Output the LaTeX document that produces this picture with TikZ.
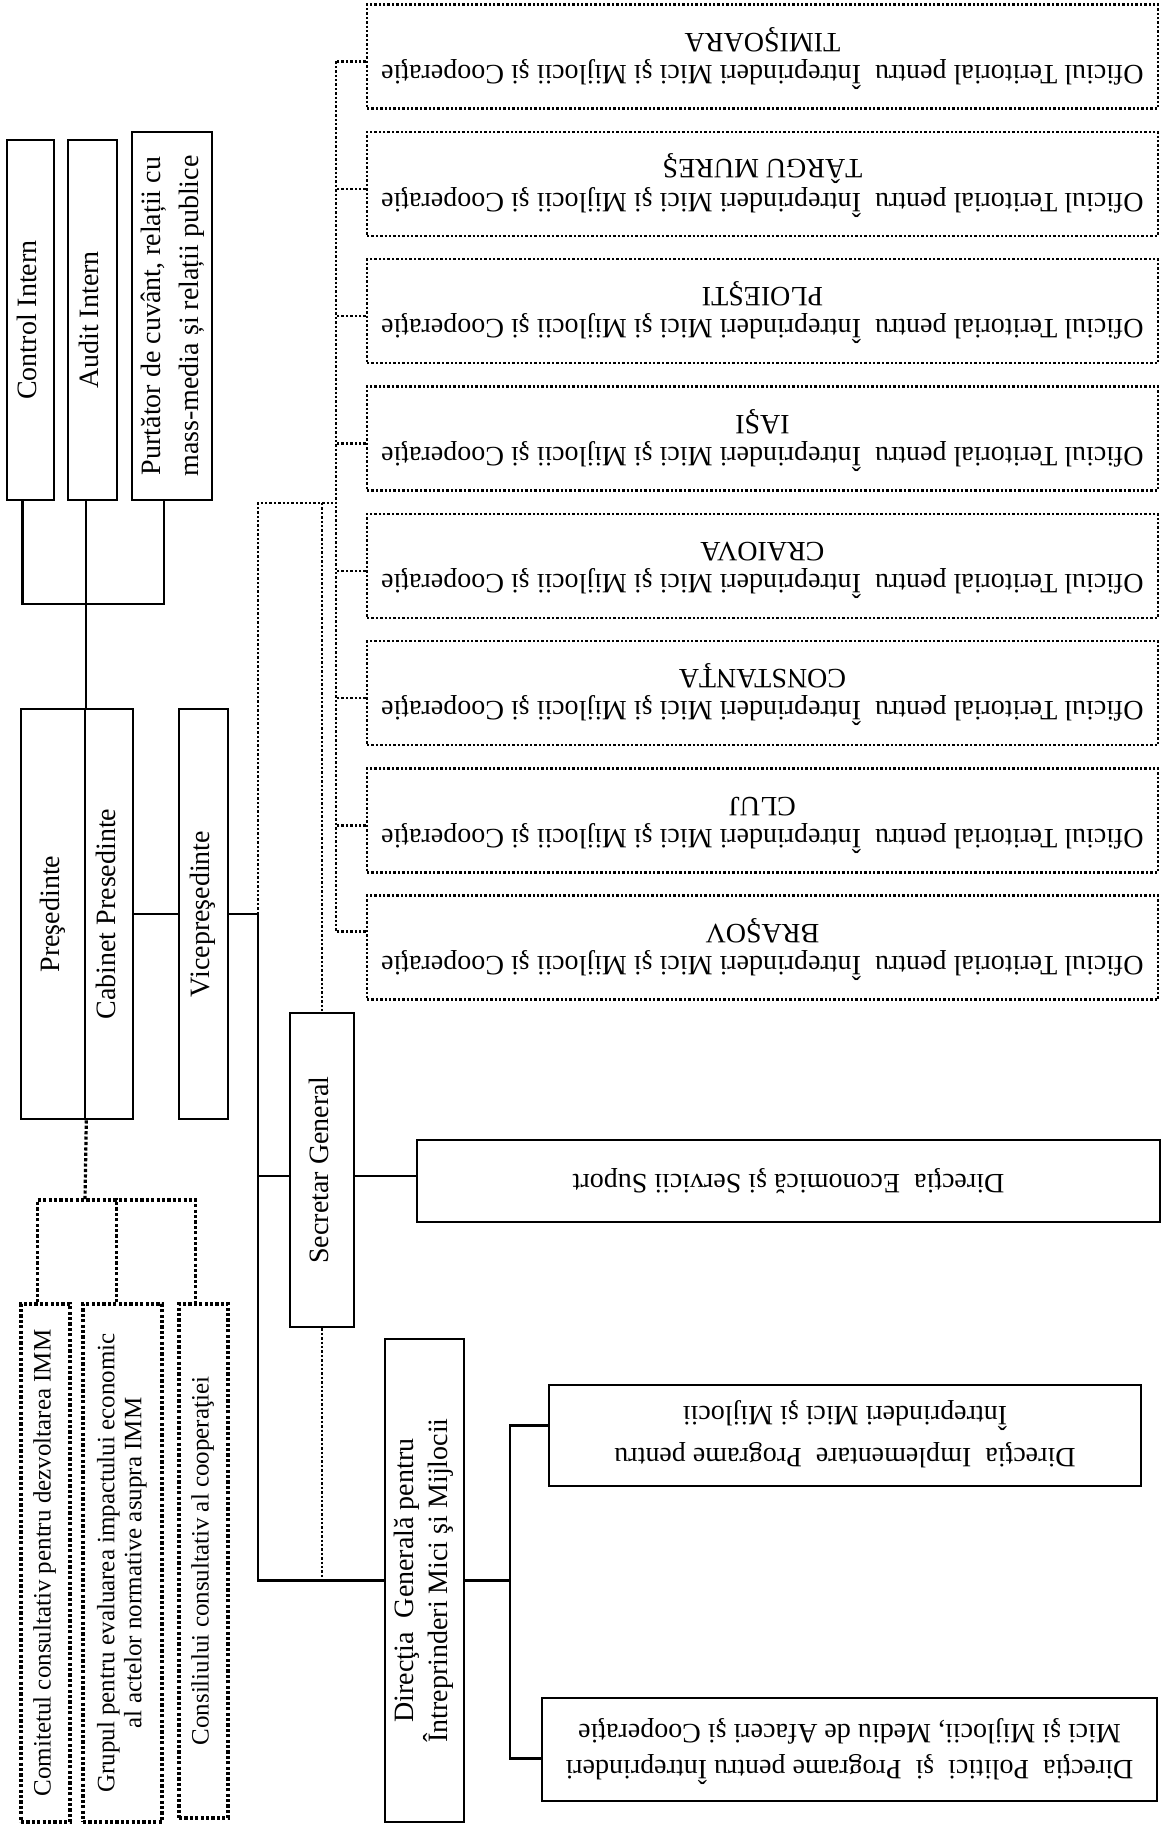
\documentclass[tikz,border=0pt]{standalone}
\usepackage{fontspec}
\setmainfont{Liberation Serif}
\usepackage{graphicx}
\usetikzlibrary{calc}

\newcommand{\uptext}[3]{\rotatebox{90}{\fontsize{#1}{#2}\selectfont\begin{tabular}{@{}c@{}}#3\end{tabular}}}
\newcommand{\flipped}[3]{\rotatebox{180}{\fontsize{#1}{#2}\selectfont\begin{tabular}{@{}c@{}}#3\end{tabular}}}

\begin{document}
\begin{tikzpicture}[x=0.5pt,y=-0.5pt,
    box/.style={draw, line width=1.3pt, inner sep=0pt},
    dotbox/.style={draw, line width=1.6pt, dash pattern=on 1.6pt off 1.1pt, inner sep=0pt},
    officebox/.style={draw, line width=1.2pt, dash pattern=on 1.2pt off 1pt, inner sep=0pt},
    link/.style={line width=1.1pt},
    dotlink/.style={line width=1.6pt, dash pattern=on 1.6pt off 1.1pt},
    offlink/.style={line width=1.2pt, dash pattern=on 1.2pt off 1pt}]
    \useasboundingbox (0,0) rectangle (1171,1825);

    % control, audit, spokesman %
    \node[box, minimum width=23.5pt, minimum height=180pt] (ci) at (30.5,320) {\uptext{14}{16}{Control Intern}};
    \node[box, minimum width=24.5pt, minimum height=180pt] (ai) at (92.5,320) {\uptext{14}{16}{Audit Intern}};
    \node[box, minimum width=40pt, minimum height=184pt] (pc) at (172,316) {\uptext{14}{19}{Purtător de cuvânt, relații cu\\mass-media și relații publice}};

    % president and vice %
    \node[box, minimum width=32pt, minimum height=205pt] (pres) at (53,914) {\uptext{14}{16}{Preşedinte}};
    \node[box, minimum width=24pt, minimum height=205pt] (cab) at (109,914) {\uptext{14}{16}{Cabinet Presedinte}};
    \node[box, minimum width=24.5pt, minimum height=205pt] (vice) at (203.5,914) {\uptext{14}{16}{Vicepreşedinte}};

    % advisory bodies %
    \node[dotbox, minimum width=24.5pt, minimum height=259pt] (com) at (45.5,1563) {\uptext{12.5}{13}{Comitetul consultativ pentru dezvoltarea IMM}};
    \node[dotbox, minimum width=39.5pt, minimum height=259pt] (grp) at (122.5,1563) {\uptext{12.5}{13.5}{Grupul pentru evaluarea impactului economic\\al actelor normative asupra IMM}};
    \node[dotbox, minimum width=24.5pt, minimum height=257pt] (cons) at (203.5,1561) {\uptext{12.5}{13}{Consiliului consultativ al cooperaţiei}};

    % secretary and directorates %
    \node[box, minimum width=32pt, minimum height=157pt] (sec) at (322,1170) {\uptext{14}{16}{Secretar General}};
    \node[box, minimum width=371.5pt, minimum height=41pt] (eco) at (788.5,1181) {\flipped{14}{16}{Direcţia\ \ Economică şi Servicii Suport}};
    \node[box, minimum width=39.5pt, minimum height=241.5pt] (dg) at (424.5,1580.5) {\uptext{14}{15}{Direcţia\ \ Generală pentru\\Întreprinderi Mici şi Mijlocii}};
    \node[box, minimum width=296pt, minimum height=50.5pt] (impl) at (845,1435.5) {\flipped{14}{21}{Direcţia\ \ Implementare\ \ Programe pentru\\Întreprinderi Mici şi Mijlocii}};
    \node[box, minimum width=307.5pt, minimum height=51.5pt] (pol) at (849.5,1749.5) {\flipped{14}{18}{Direcţia\ \ Politici\ \ şi\ \ Programe pentru Întreprinderi\\Mici şi Mijlocii, Mediu de Afaceri şi Cooperaţie}};

    % territorial offices %
    \foreach \city [count=\i] in {TIMIŞOARA, TÂRGU MUREŞ, PLOIEŞTI, IAŞI, CRAIOVA, CONSTANŢA, CLUJ, BRAŞOV} {
        \node[officebox, minimum width=395.5pt, minimum height=52pt] (o\i) at (762.5,{56.5+127.3*(\i-1)}) {\flipped{14}{16}{Oficiul Teritorial pentru\ \ Întreprinderi Mici şi Mijlocii şi Cooperaţie\\\city}};
    }

    % solid links %
    \draw[link] ([xshift=-4pt]ci.south) -- ++(0,103) -| ([xshift=-4pt]pc.south);
    \draw[link] (pres.north east) -- (pres.north east |- ai.south);
    \draw[link] (cab.east) -- (vice.west);
    \coordinate (spine) at (258,914);
    \draw[link] (vice.east) -- (spine);
    \draw[link] (spine) |- (dg.west);
    \draw[link] ([yshift=-3pt]sec.west) -- ([yshift=-3pt]sec.west -| spine);
    \draw[link] ([yshift=-3pt]sec.east) -- ([yshift=2.5pt]eco.west);
    \coordinate (dgbus) at ($(dg.east)+(44.5,0)$);
    \draw[link] (dg.east) -- (dgbus);
    \draw[link] ([yshift=5pt]impl.west) -| (dgbus) |- ([yshift=-4.5pt]pol.west);

    % dotted links %
    \coordinate (adv) at (85,1200);
    \draw[dotlink] (pres.south east) -- (adv);
    \draw[dotlink] ([xshift=-4pt]com.north) |- (adv) -| ([xshift=-4pt]cons.north);
    \draw[dotlink] ([xshift=-3pt]grp.north) -- ++(0,-104);
    \coordinate (offtop) at (258,503);
    \coordinate (offbus) at (337,503);
    \draw[offlink] (spine) -- (offtop) -- (offbus);
    \draw[offlink] (offtop -| sec.north) -- (sec.north);
    \draw[offlink] (sec.south) -- (sec.south |- dg.west);
    \draw[offlink] ([xshift=-15pt,yshift=-2.5pt]o1.west) -- ([xshift=-15pt,yshift=8pt]o8.west);
    \foreach \i in {1,...,7}
        \draw[offlink] ([yshift=-2.5pt]o\i.west) -- ++(-30,0);
    \draw[offlink] ([yshift=8pt]o8.west) -- ++(-30,0);
\end{tikzpicture}
\end{document}
